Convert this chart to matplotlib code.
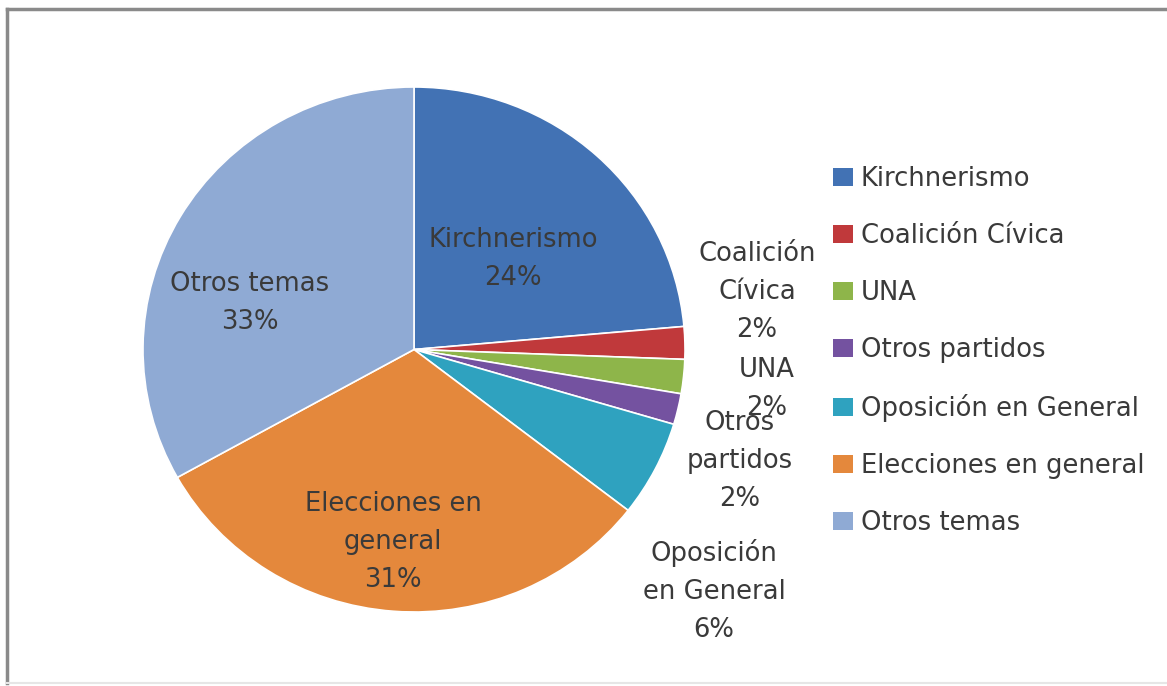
import matplotlib
matplotlib.use("Agg")
import matplotlib.pyplot as plt
from matplotlib.lines import Line2D
from matplotlib.patches import Patch

plt.rcParams['font.family'] = ['DejaVu Sans']

categories = ["Kirchnerismo", "Coalición Cívica", "UNA", "Otros partidos",
              "Oposición en General", "Elecciones en general", "Otros temas"]
values = [23.6, 2.0, 2.1, 1.9, 5.9, 31.4, 33.1]
slice_labels = ["Kirchnerismo\n24%", "Coalición\nCívica\n2%", "UNA\n2%",
                "Otros\npartidos\n2%", "Oposición\nen General\n6%",
                "Elecciones en\ngeneral\n31%", "Otros temas\n33%"]
colors = ["#4272B4", "#C0393B", "#8EB54A", "#7452A0", "#2FA2BF", "#E4883C", "#8FAAD4"]

W, H = 1167, 686
fig = plt.figure(figsize=(W / 100, H / 100), dpi=100)

# pie axes: pixel box
cx, cy, rx, ry = 414, 349.5, 271, 262.5
ax = fig.add_axes([(cx - rx) / W, (H - (cy + ry)) / H, 2 * rx / W, 2 * ry / H])
wedges, _ = ax.pie(values, colors=colors, startangle=90, counterclock=False,
                   radius=1, wedgeprops=dict(edgecolor="white", linewidth=1.2))
ax.set_xlim(-1, 1)
ax.set_ylim(-1, 1)
ax.set_aspect('auto')
ax.axis('off')

FS = 18.6
# label positions in pixels (Excel best-fit placement)
label_px = [(513, 259), (757, 292), (767, 389), (740, 461), (714, 591), (393, 542), (250, 303)]
txtcol = "#3a3a3a"
for (px, py), lab in zip(label_px, slice_labels):
    ax.text((px - cx) / rx, (cy - py) / ry, lab, ha='center', va='center',
            fontsize=FS, color=txtcol, linespacing=1.6, clip_on=False)

# legend
handles = [Patch(facecolor=c, edgecolor='none') for c in colors]
leg = fig.legend(handles, categories, loc='upper left',
                 bbox_to_anchor=(833 / W, 1 - 166 / H), frameon=False,
                 fontsize=FS, labelspacing=1.2, handlelength=0.78, handleheight=0.66,
                 handletextpad=0.3, borderpad=0, borderaxespad=0)
for t in leg.get_texts():
    t.set_color(txtcol)

# frame lines
fig.add_artist(Line2D([7 / W, 7 / W], [1 - 9 / H, 1 - 683 / H], color="#8a8a8a", lw=2.5,
                      transform=fig.transFigure))
fig.add_artist(Line2D([7 / W, 1.0], [1 - 9 / H, 1 - 9 / H], color="#8a8a8a", lw=2.5,
                      transform=fig.transFigure))
fig.add_artist(Line2D([7 / W, 1.0], [1 - 683 / H, 1 - 683 / H], color="#e6e6e6", lw=1.5,
                      transform=fig.transFigure))

fig.savefig("out.png", dpi=100)
